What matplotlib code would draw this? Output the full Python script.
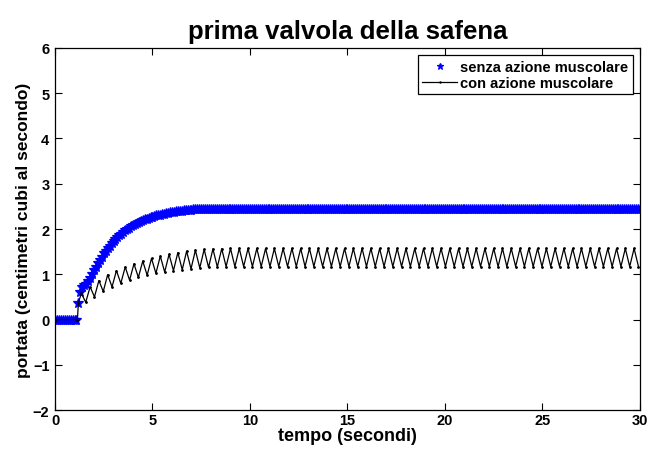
import numpy as np
import matplotlib
matplotlib.use("Agg")
import matplotlib.pyplot as plt

plt.rcParams['font.family'] = ['Liberation Sans', 'DejaVu Sans']
plt.rcParams['font.weight'] = 'bold'

# ── data ───────────────────────────────────────────────────────────────────
# "senza azione muscolare": sampled every 0.1 s from 0 to 30 s
blue_step = 0.1
blue_rise = [0.0] * 12 + [
    0.37, 0.60, 0.72, 0.76, 0.79, 0.85, 0.92, 1.00, 1.09, 1.17,
    1.25, 1.32, 1.39, 1.46, 1.52, 1.58, 1.63, 1.68, 1.73, 1.78,
    1.82, 1.86, 1.90, 1.94, 1.97, 2.00, 2.03, 2.06, 2.08, 2.11,
    2.13, 2.15, 2.17, 2.19, 2.21, 2.23, 2.24, 2.26, 2.27, 2.285,
    2.30, 2.31, 2.32, 2.33, 2.34, 2.35, 2.36, 2.37, 2.38, 2.385,
    2.39, 2.395, 2.40, 2.405, 2.41, 2.415, 2.42, 2.425, 2.43, 2.432,
    2.435, 2.437, 2.44, 2.442, 2.444, 2.446, 2.448, 2.449, 2.45]
blue_plateau = [2.45] * 220
senza = blue_rise + blue_plateau

# "con azione muscolare": flat start, then a zigzag (peaks / troughs)
con_start_t = [0.0, 1.15, 1.20]
con_start_v = [0.0, 0.0, 0.37]
period = 0.45
first_peak_t = 1.35
peaks = [0.58, 0.72, 0.86, 0.99, 1.08, 1.16, 1.23, 1.29, 1.35, 1.40,
         1.44, 1.48, 1.51, 1.53, 1.55, 1.56, 1.565] + [1.57] * 47
troughs = [0.38, 0.50, 0.62, 0.72, 0.80, 0.87, 0.93, 0.98, 1.02, 1.05,
           1.08, 1.10, 1.12, 1.14, 1.15, 1.16] + [1.17] * 48

x_ticks = [0, 5, 10, 15, 20, 25, 30]
y_ticks = [-2, -1, 0, 1, 2, 3, 4, 5, 6]

# ── build time grids ───────────────────────────────────────────────────────
t_senza = np.arange(len(senza)) * blue_step

t_con, v_con = list(con_start_t), list(con_start_v)
for k, (p, tr) in enumerate(zip(peaks, troughs)):
    tp = first_peak_t + k * period
    t_con += [tp, tp + period / 2]
    v_con += [p, tr]

# ── plot ───────────────────────────────────────────────────────────────────
fig = plt.figure(figsize=(6.51, 4.52), dpi=100)
ax = fig.add_axes([0.0845, 0.0907, 0.8985, 0.8009])

ax.plot(t_senza, senza, linestyle="none", marker="*", color="blue",
        markersize=7, markeredgewidth=0.9, label="senza azione muscolare")
ax.plot(t_con, v_con, color="black", linewidth=0.9, marker=".",
        markersize=2, label="con azione muscolare")

ax.set_xlim(0, 30)
ax.set_ylim(-2, 6)
ax.set_xticks(x_ticks)
ax.set_yticks(y_ticks)
ax.set_yticklabels([str(v).replace("-", "\u2212") for v in y_ticks])
ax.tick_params(direction="in", top=True, right=True, length=5, width=0.8,
               labelsize=10.5)
ax.tick_params(axis="x", pad=2)
ax.tick_params(axis="y", pad=4)
for lab in ax.get_xticklabels() + ax.get_yticklabels():
    lab.set_fontweight("bold")
for sp in ax.spines.values():
    sp.set_linewidth(0.9)

ax.set_title("prima valvola della safena", fontsize=18.5, fontweight="bold",
             pad=7)
ax.set_xlabel("tempo (secondi)", fontsize=13, fontweight="bold",
              labelpad=0)
ax.set_ylabel("portata (centimetri cubi al secondo)", fontsize=12.5,
              fontweight="bold", labelpad=1)

leg = ax.legend(loc="upper right", fancybox=False, framealpha=1,
                edgecolor="black", handlelength=2.4, borderpad=0.3,
                labelspacing=0.15, handletextpad=0.2, borderaxespad=0.5,
                markerscale=0.7, prop={"weight": "bold", "size": 10.5})
leg.get_frame().set_linewidth(0.9)

fig.savefig("out.png", dpi=100)
